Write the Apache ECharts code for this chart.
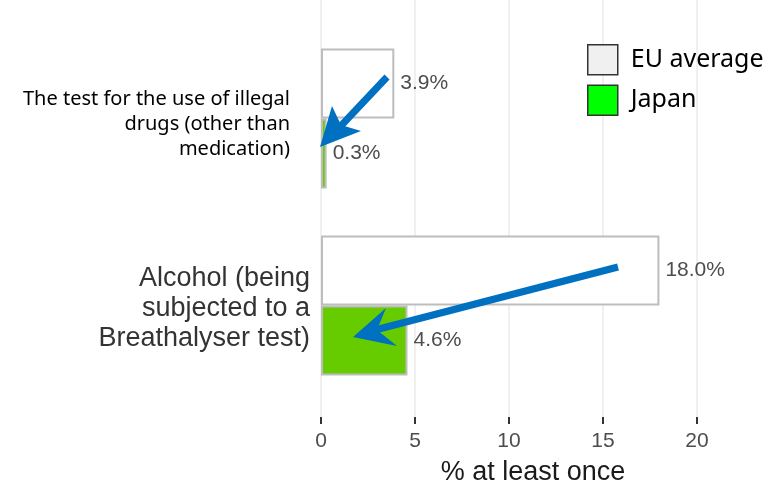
<!DOCTYPE html>
<html><head><meta charset="utf-8">
<script src="https://cdn.jsdelivr.net/npm/echarts@6/dist/echarts.min.js"></script>
<style>html,body{margin:0;padding:0;background:#fff}#c{width:779px;height:485px}</style>
</head><body><div id="c"></div>
<script>
const categories = ['The test for the use of illegal\ndrugs (other than\nmedication)', 'Alcohol (being\nsubjected to a\nBreathalyser test)'];
const euAverage = [3.9, 18.0];
const japan = [0.3, 4.6];
const xTicks = [0, 5, 10, 15, 20];
const seriesNames = ['EU average', 'Japan'];

const chart = echarts.init(document.getElementById('c'));
const pct = p => p.value.toFixed(1) + '%';
const labelStyle = {show: true, position: 'right', distance: 6, formatter: pct, color: '#4d4d4d', fontSize: 21, fontFamily: 'Liberation Sans'};
const blue = '#0070c0';
chart.setOption({
  animation: false,
  grid: [
    {left: 321, right: 82, top: 25, height: 374, outerBoundsMode: 'none'},
    {left: 321, right: 82, top: 0, height: 417, outerBoundsMode: 'none'}
  ],
  xAxis: [
    {gridIndex: 0, type: 'value', min: xTicks[0], max: xTicks[xTicks.length - 1], show: false},
    {gridIndex: 1, type: 'value', min: xTicks[0], max: xTicks[xTicks.length - 1], interval: 5,
     axisLine: {show: false},
     axisTick: {show: true, length: 7, lineStyle: {color: '#333', width: 2}},
     axisLabel: {color: '#4d4d4d', fontSize: 21, fontFamily: 'Liberation Sans', margin: 14},
     splitLine: {show: true, lineStyle: {color: '#ebebeb', width: 1.5}},
     name: '% at least once', nameLocation: 'middle', nameGap: 42,
     nameTextStyle: {color: '#1a1a1a', fontSize: 27, fontFamily: 'Liberation Sans', padding: [0, 0, 0, 48]}}
  ],
  yAxis: [
    {gridIndex: 0, type: 'category', data: categories, inverse: true,
     axisLine: {show: false}, axisTick: {show: false}, splitLine: {show: false},
     axisLabel: {margin: 11, formatter: (v, i) => i === 0 ? '{a|' + v + '}' : '{b|' + v + '}',
       rich: {
         a: {fontFamily: 'Noto Sans', fontSize: 20, color: '#000', lineHeight: 25, align: 'right', padding: [12, 20, 0, 0]},
         b: {fontFamily: 'Liberation Sans', fontSize: 27, color: '#333', lineHeight: 30, align: 'right', padding: [6, 0, 0, 0]}
       }}},
    {gridIndex: 1, type: 'value', show: false}
  ],
  legend: {
    orient: 'vertical', left: 587, top: 44, padding: 0, itemWidth: 30, itemHeight: 30, itemGap: 9, icon: 'rect',
    textStyle: {fontFamily: 'Noto Sans', fontSize: 25, color: '#000', padding: [0, 0, 0, 8]},
    data: [
      {name: seriesNames[0], itemStyle: {color: '#f0f0f0', borderColor: '#333', borderWidth: 1.5}},
      {name: seriesNames[1], itemStyle: {color: '#00ff00', borderColor: '#333', borderWidth: 1.5}}
    ]
  },
  series: [
    {name: seriesNames[0], type: 'bar', xAxisIndex: 0, yAxisIndex: 0, data: euAverage, barWidth: 70, barGap: '0%',
     itemStyle: {color: '#ffffff', borderColor: '#bdbdbd', borderWidth: 2}, label: labelStyle},
    {name: seriesNames[1], type: 'bar', xAxisIndex: 0, yAxisIndex: 0, data: japan, barWidth: 70, barGap: '0%',
     itemStyle: {color: '#66cc00', borderColor: '#bdbdbd', borderWidth: 2}, label: labelStyle}
  ],
  graphic: [
    {type: 'polyline', shape: {points: [[387, 77], [337, 130]]}, style: {stroke: blue, lineWidth: 7}, z: 100},
    {type: 'polygon', shape: {points: [[320, 147], [332, 106], [341, 125], [361, 131]]}, style: {fill: blue}, z: 100},
    {type: 'polyline', shape: {points: [[618, 267], [375, 330]]}, style: {stroke: blue, lineWidth: 7}, z: 100},
    {type: 'polygon', shape: {points: [[353, 337], [386, 308], [377, 330], [397, 346]]}, style: {fill: blue}, z: 100}
  ]
});
</script></body></html>
